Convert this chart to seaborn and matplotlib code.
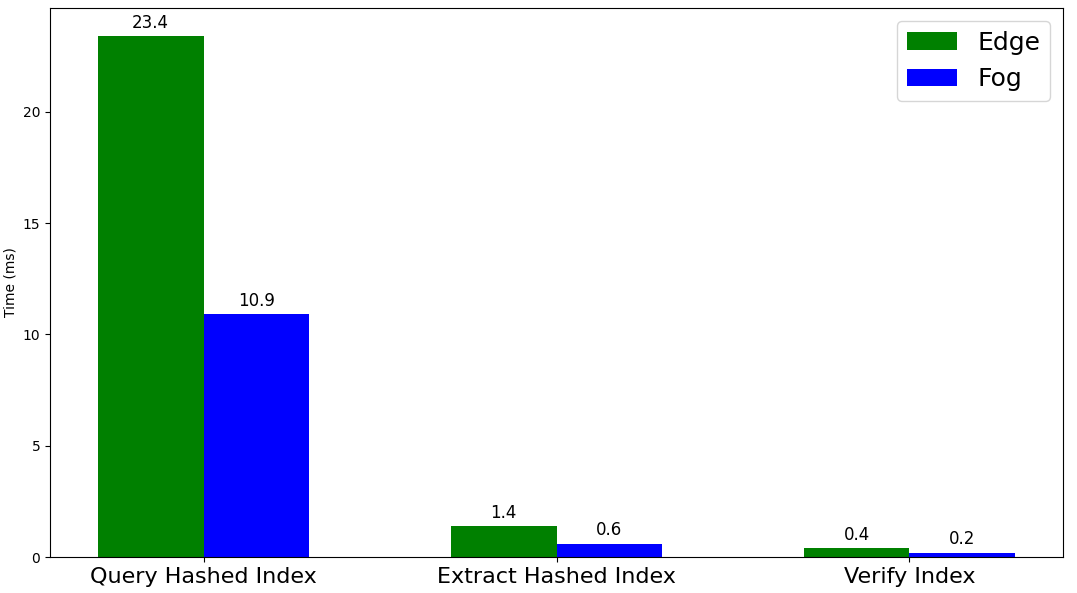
import matplotlib
matplotlib.use("Agg")
import matplotlib.pyplot as plt
import pandas as pd
import seaborn as sns

# values
tasks = ["Query Hashed Index", "Extract Hashed Index", "Verify Index"]
edge_times = [23.4, 1.4, 0.4]
fog_times = [10.9, 0.6, 0.2]

df = pd.DataFrame({
    "task": tasks * 2,
    "time": edge_times + fog_times,
    "node": ["Edge"] * len(tasks) + ["Fog"] * len(tasks),
})

fig = plt.figure(figsize=(10.77, 5.93), dpi=100)
ax = fig.add_axes([0.0465, 0.0607, 0.9405, 0.9258])

sns.barplot(data=df, x="task", y="time", hue="node", order=tasks,
            palette={"Edge": "green", "Fog": "blue"}, width=0.6,
            saturation=1, ax=ax)

for cont in ax.containers:
    ax.bar_label(cont, fmt="%.1f", padding=3, fontsize=12)

ax.set_xlim(-0.435, 2.435)
ax.set_ylim(0, 24.67)
ax.set_xlabel("")
ax.set_ylabel("Time (ms)", fontsize=10)
ax.tick_params(axis="x", labelsize=16)
ax.tick_params(axis="y", labelsize=10)
ax.set_yticks([0, 5, 10, 15, 20])
ax.legend(loc="upper right", fontsize=18, title=None)

fig.savefig("out.png", dpi=100)
